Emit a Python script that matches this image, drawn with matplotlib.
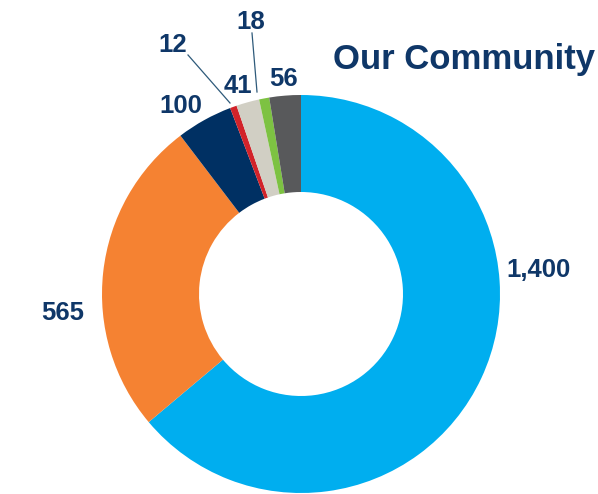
import numpy as np
from matplotlib import pyplot as plt

# Community counts, clockwise from 12 o'clock
values = [1400, 565, 100, 12, 41, 18, 56]
labels = ['1,400', '565', '100', '12', '41', '18', '56']
colors = ['#00AEEF', '#F58232', '#003063', '#D2232A', '#D1CFC4', '#7DC242', '#58595B']

# label anchor points (pixels from top-left)
label_pos = [(539, 270), (63, 313), (181, 106), (173, 45), (238, 86), (251, 22), (284, 79)]
# leader lines for the thin slices: (text end, wedge end)
leaders = {3: ((188, 55), (230, 103)), 5: ((252, 33), (257, 92))}

W, H = 598, 494
navy = '#0F3768'

fig = plt.figure(figsize=(W/100, H/100), dpi=100)
ax = fig.add_axes([0, 0, 1, 1])

ax.pie(values, colors=colors, startangle=90, counterclock=False,
       center=(301, H-294), radius=199,
       wedgeprops=dict(width=97, linewidth=0))

for i, (lab, (px, py)) in enumerate(zip(labels, label_pos)):
    ax.text(px, H-py, lab, ha='center', va='center', fontsize=18.5,
            fontweight='bold', color=navy, family='Liberation Sans')

for (x0, y0), (x1, y1) in leaders.values():
    ax.plot([x0, x1], [H-y0, H-y1], color='#2E5A7A', lw=0.9)

ax.text(595, H-60, 'Our Community', ha='right', va='center', fontsize=25,
        fontweight='bold', color=navy, family='Liberation Sans')

ax.set_xlim(0, W)
ax.set_ylim(0, H)
ax.axis('off')

plt.savefig('out.png', dpi=100)
